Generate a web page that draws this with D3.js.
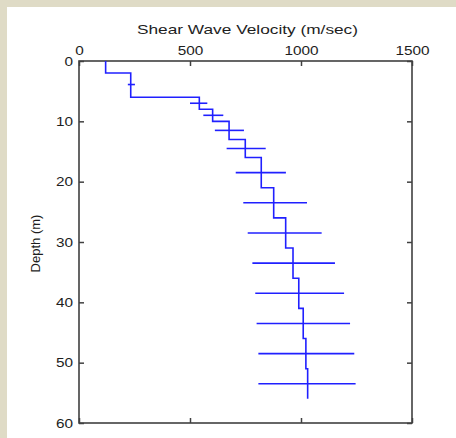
<!DOCTYPE html>
<html>
<head>
<meta charset="utf-8">
<script src="https://cdn.jsdelivr.net/npm/d3@7"></script>
<style>
    body { margin: 0; background: #ffffff; }
    svg { display: block; }
</style>
</head>
<body>
<div id="chart"></div>
<script>
// layered shear wave velocity profile
const layerTop = [0, 2, 6, 8, 10, 13, 16, 21, 26, 31, 36, 41, 46, 51];
const layerBottom = [2, 6, 8, 10, 13, 16, 21, 26, 31, 36, 41, 46, 51, 56];
const velocity = [120, 233, 542, 602, 676, 749, 821, 877, 931, 964, 990, 1010, 1022, 1030];

// horizontal uncertainty bars
const errDepth = [3.9, 7, 9, 11.5, 14.5, 18.5, 23.5, 28.5, 33.5, 38.5, 43.5, 48.5, 53.5];
const errLow = [220, 500, 560, 612, 665, 706, 740, 760, 781, 794, 800, 808, 808];
const errHigh = [252, 578, 650, 743, 841, 932, 1027, 1093, 1153, 1194, 1221, 1240, 1246];

const xTicks = [0, 500, 1000, 1500];
const yTicks = [0, 10, 20, 30, 40, 50, 60];

const W = 456, H = 438;
const MARGINS = {left: 79, right: 44, top: 61, bottom: 15};
const FONT_FAMILY = "'Liberation Sans', Arial, sans-serif";
const TEXT_COLOR = "#1e1e1e";
const FRAME_COLOR = "#404040";
const LINE_COLOR = "#2020ff";

let root = d3.select("#chart")
    .append("svg")
    .attr("width", W)
    .attr("height", H);

// beige border of the page
root.append("rect")
    .attr("width", W).attr("height", H)
    .attr("fill", "#dfdbc6");
root.append("rect")
    .attr("x", 7).attr("y", 7)
    .attr("width", W - 7).attr("height", H - 7)
    .attr("fill", "#ffffff");

let plotW = W - MARGINS.left - MARGINS.right;
let plotH = H - MARGINS.top - MARGINS.bottom;

let svg = root.append("g")
    .attr("transform", "translate(" + MARGINS.left + "," + MARGINS.top + ")");

let x = d3.scaleLinear().domain([0, 1500]).range([0, plotW]);
let y = d3.scaleLinear().domain([0, 60]).range([0, plotH]);

function styleAxis(g, showText) {
    g.select(".domain").remove();
    g.selectAll(".tick line")
        .attr("stroke", FRAME_COLOR)
        .attr("stroke-width", 1.5);
    g.selectAll(".tick text")
        .attr("fill", TEXT_COLOR)
        .style("font-family", FONT_FAMILY)
        .style("font-size", "13px");
    if (!showText) g.selectAll(".tick text").remove();
}

svg.append("g")
    .call(d3.axisTop(x).tickValues(xTicks).tickFormat(d3.format("d")).tickSize(-5).tickPadding(6))
    .call(g => styleAxis(g, true))
    .selectAll(".tick text")
    .attr("transform", "scale(1.18,1)");

svg.append("g")
    .attr("transform", "translate(0," + plotH + ")")
    .call(d3.axisBottom(x).tickValues(xTicks).tickSize(-5))
    .call(g => styleAxis(g, false));

svg.append("g")
    .call(d3.axisLeft(y).tickValues(yTicks).tickFormat(d3.format("d")).tickSize(-5).tickPadding(6))
    .call(g => styleAxis(g, true))
    .selectAll(".tick text")
    .attr("x", -6 / 1.18)
    .attr("transform", "scale(1.18,1)");

svg.append("g")
    .attr("transform", "translate(" + plotW + ",0)")
    .call(d3.axisRight(y).tickValues(yTicks).tickSize(-5))
    .call(g => styleAxis(g, false));

// frame
svg.append("rect")
    .attr("width", plotW)
    .attr("height", plotH)
    .attr("fill", "none")
    .attr("stroke", FRAME_COLOR)
    .attr("stroke-width", 1.6);

// step profile
let points = [];
velocity.forEach((v, i) => {
    points.push([v, layerTop[i]]);
    points.push([v, layerBottom[i]]);
});

svg.append("path")
    .datum(points)
    .attr("fill", "none")
    .attr("stroke", LINE_COLOR)
    .attr("stroke-width", 1.6)
    .attr("d", d3.line()
        .x(d => x(d[0]))
        .y(d => y(d[1]))
    );

svg.selectAll("line.err")
    .data(errDepth)
    .enter()
    .append("line")
    .attr("class", "err")
    .attr("x1", (d, i) => x(errLow[i]))
    .attr("x2", (d, i) => x(errHigh[i]))
    .attr("y1", d => y(d))
    .attr("y2", d => y(d))
    .attr("stroke", LINE_COLOR)
    .attr("stroke-width", 1.6);

root.append("text")
    .attr("x", 247.5)
    .attr("y", 34)
    .attr("text-anchor", "middle")
    .attr("textLength", 221)
    .attr("lengthAdjust", "spacingAndGlyphs")
    .style("font-family", FONT_FAMILY)
    .style("font-size", "13px")
    .attr("fill", TEXT_COLOR)
    .text("Shear Wave Velocity (m/sec)");

root.append("text")
    .attr("transform", "translate(40,243.5) rotate(-90)")
    .attr("text-anchor", "middle")
    .style("font-family", FONT_FAMILY)
    .style("font-size", "13px")
    .attr("fill", TEXT_COLOR)
    .text("Depth (m)");
</script>
</body>
</html>
